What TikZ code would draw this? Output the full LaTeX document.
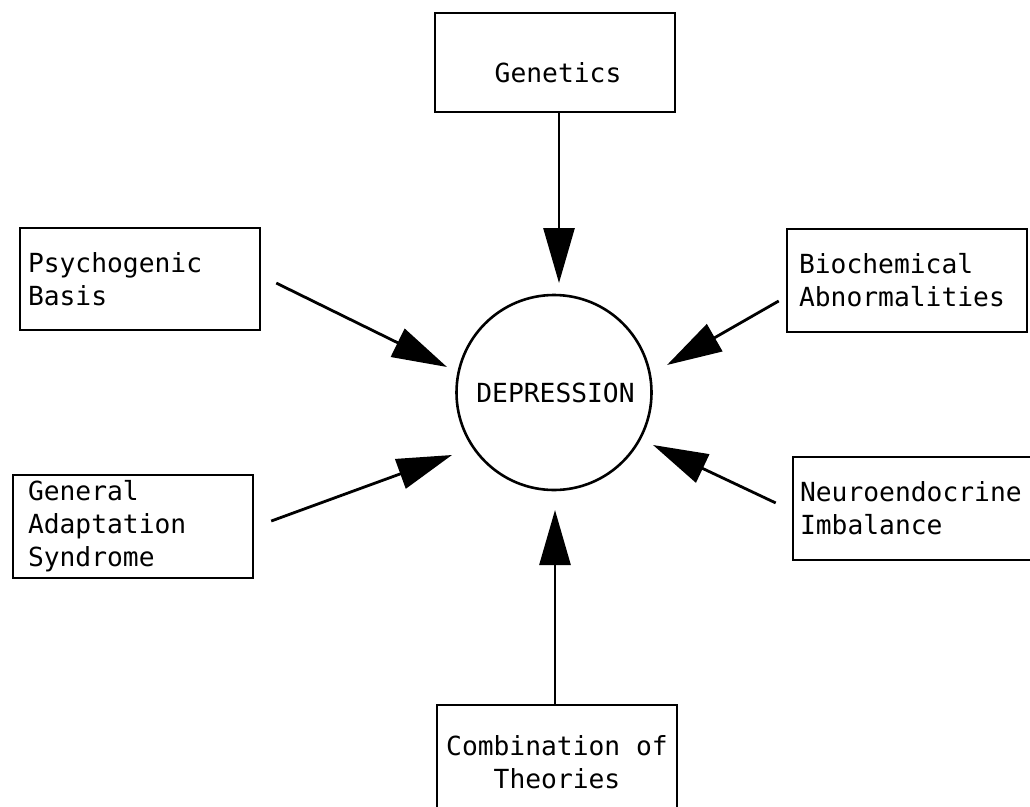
\documentclass[tikz,border=0pt]{standalone}
\usepackage{fontspec}
\setmonofont{DejaVu Sans Mono}
\usetikzlibrary{arrows.meta}
\begin{document}
\begin{tikzpicture}[x=1pt,y=-1pt,
  every node/.style={font=\ttfamily\fontsize{26.3}{33}\selectfont},
  cbox/.style={draw, line width=2.6pt, rectangle, inner ysep=0pt},
  leftbox/.style={cbox, align=left},
  arr/.style={line width=2.8pt, -{Triangle[length=55pt,width=31pt]}}]
\useasboundingbox (0,0) rectangle (1030,806);
\fill[white] (0,0) rectangle (1030,806);
% central circle
\node[draw, circle, line width=2.6pt, minimum size=195pt, inner sep=0pt] (dep) at (554,392.5) {\hspace{3pt}DEPRESSION};
% boxes
\node[cbox, minimum width=240pt, minimum height=99pt, text height=39pt, text depth=0pt] (gen) at (555,62.5) {\hspace{6pt}Genetics};
\node[leftbox, minimum width=240pt, minimum height=102pt, inner xsep=8pt, text width=224pt] (psy) at (140,279) {\raisebox{-3pt}{Psychogenic}\\\raisebox{-3pt}{Basis}};
\node[leftbox, minimum width=240pt, minimum height=103pt, inner xsep=15pt, text width=210pt] (gas) at (133,526.5) {General\\Adaptation\\Syndrome};
\node[leftbox, minimum width=240pt, minimum height=103pt, inner xsep=12pt, text width=216pt] (bio) at (907,280.5) {Biochemical\\Abnormalities};
\node[leftbox, minimum width=247pt, minimum height=103pt, inner xsep=7pt, text width=233pt] (neu) at (916.5,508.5) {Neuroendocrine\\Imbalance};
\node[cbox, align=center, minimum width=240pt, minimum height=115pt] (com) at (557,762.5) {Combination of\\Theories};
% arrow tips
\coordinate (gT) at (559,283);
\coordinate (pT) at (447,367);
\coordinate (aT) at (452,455);
\coordinate (bT) at (667,365);
\coordinate (nT) at (653,445);
\coordinate (cT) at (555,510);
% connectors
\draw[arr] ([xshift=4pt]gen.south) -- (gT);
\draw[arr, shorten <=16.7pt] ([yshift=3.3pt]psy.east) -- (pT);
\draw[arr, shorten <=18pt] ([yshift=-0.7pt]gas.east) -- (aT);
\draw[arr, shorten <=8pt] ([yshift=-16.5pt]bio.west) -- (bT);
\draw[arr, shorten <=17.7pt] ([yshift=-2pt]neu.west) -- (nT);
\draw[arr] ([xshift=-2pt]com.north) -- (cT);
\end{tikzpicture}
\end{document}
